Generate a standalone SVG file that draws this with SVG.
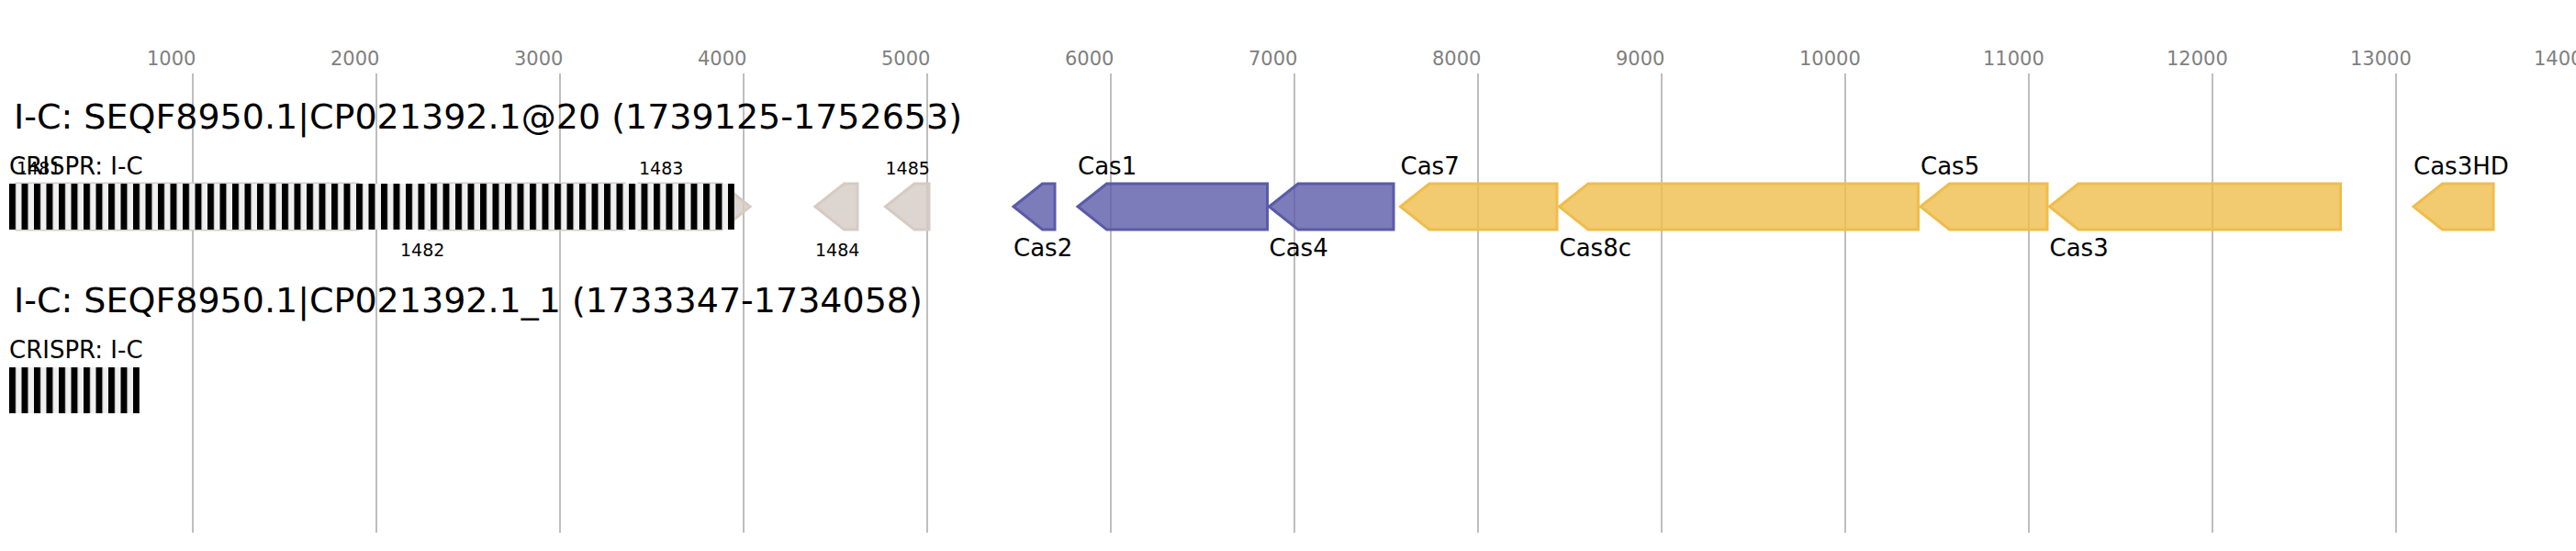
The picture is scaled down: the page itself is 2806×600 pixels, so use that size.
<svg xmlns="http://www.w3.org/2000/svg" width="2806" height="600" viewBox="0 0 2806 600">
<style>
text{font-family:"DejaVu Sans","Liberation Sans",sans-serif;fill:#000}
.ax{font-size:21px;fill:#808080}
.ttl{font-size:38px}
.lbl{font-size:26px}
.num{font-size:19px}
.grid{stroke:#bebebe;stroke-width:2}
.gene{stroke-width:3;fill-opacity:0.8;stroke-linejoin:miter}
.blue{fill:#5a5ba8;stroke:#5a5ba8}
.yel{fill:#efbd4b;stroke:#efbd4b}
.gry{fill:#d5cbc3;stroke:#d5cbc3}
</style>
<defs>
<pattern id="crispr" patternUnits="userSpaceOnUse" x="10" y="0" width="13.5" height="600">
<rect x="0" y="0" width="13.5" height="600" fill="#f0f0f0"/>
<rect x="0" y="0" width="7" height="600" fill="#000"/>
</pattern>
</defs>
<rect width="2806" height="600" fill="#fff"/>
<g id="axis">
<g class="grid">
<line x1="210" y1="80" x2="210" y2="580"/>
<line x1="410" y1="80" x2="410" y2="580"/>
<line x1="610" y1="80" x2="610" y2="580"/>
<line x1="810" y1="80" x2="810" y2="580"/>
<line x1="1010" y1="80" x2="1010" y2="580"/>
<line x1="1210" y1="80" x2="1210" y2="580"/>
<line x1="1410" y1="80" x2="1410" y2="580"/>
<line x1="1610" y1="80" x2="1610" y2="580"/>
<line x1="1810" y1="80" x2="1810" y2="580"/>
<line x1="2010" y1="80" x2="2010" y2="580"/>
<line x1="2210" y1="80" x2="2210" y2="580"/>
<line x1="2410" y1="80" x2="2410" y2="580"/>
<line x1="2610" y1="80" x2="2610" y2="580"/>
<line x1="2810" y1="80" x2="2810" y2="580"/>
</g>
<text class="ax" x="160" y="71">1000</text>
<text class="ax" x="360" y="71">2000</text>
<text class="ax" x="560" y="71">3000</text>
<text class="ax" x="760" y="71">4000</text>
<text class="ax" x="960" y="71">5000</text>
<text class="ax" x="1160" y="71">6000</text>
<text class="ax" x="1360" y="71">7000</text>
<text class="ax" x="1560" y="71">8000</text>
<text class="ax" x="1760" y="71">9000</text>
<text class="ax" x="1960" y="71">10000</text>
<text class="ax" x="2160" y="71">11000</text>
<text class="ax" x="2360" y="71">12000</text>
<text class="ax" x="2560" y="71">13000</text>
<text class="ax" x="2760" y="71">14000</text>
</g>
<g id="locus1">
<text class="ttl" x="15" y="140">I-C: SEQF8950.1|CP021392.1@20 (1739125-1752653)</text>
<g id="g1481"><polygon class="gene gry" points="18,200 390,200 421,225 390,250 18,250"/><text class="num" x="18" y="190">1481</text></g>
<g id="g1482"><polygon class="gene gry" points="436,225 467,200 680,200 680,250 467,250"/><text class="num" x="436" y="279">1482</text></g>
<g id="g1483"><polygon class="gene gry" points="696,200 786,200 817,225 786,250 696,250"/><text class="num" x="696" y="190">1483</text></g>
<g id="crispr1"><rect x="10" y="200" width="790" height="50" fill="url(#crispr)"/><text class="lbl" x="10" y="190">CRISPR: I-C</text></g>
<g id="g1484"><polygon class="gene gry" points="888,225 919.5,200 934,200 934,250 919.5,250"/><text class="num" x="888" y="279">1484</text></g>
<g id="g1485"><polygon class="gene gry" points="964.5,225 996,200 1012,200 1012,250 996,250"/><text class="num" x="964.5" y="190">1485</text></g>
<g id="cas2"><polygon class="gene blue" points="1104,225 1135.5,200 1149,200 1149,250 1135.5,250"/><text class="lbl" x="1104" y="279">Cas2</text></g>
<g id="cas1"><polygon class="gene blue" points="1174,225 1205.5,200 1380.5,200 1380.5,250 1205.5,250"/><text class="lbl" x="1174" y="190">Cas1</text></g>
<g id="cas4"><polygon class="gene blue" points="1382.5,225 1414,200 1518,200 1518,250 1414,250"/><text class="lbl" x="1382.5" y="279">Cas4</text></g>
<g id="cas7"><polygon class="gene yel" points="1525.5,225 1557,200 1696,200 1696,250 1557,250"/><text class="lbl" x="1525.5" y="190">Cas7</text></g>
<g id="cas8c"><polygon class="gene yel" points="1698.5,225 1730,200 2089.5,200 2089.5,250 1730,250"/><text class="lbl" x="1698.5" y="279">Cas8c</text></g>
<g id="cas5"><polygon class="gene yel" points="2092,225 2123.5,200 2230,200 2230,250 2123.5,250"/><text class="lbl" x="2092" y="190">Cas5</text></g>
<g id="cas3"><polygon class="gene yel" points="2232.5,225 2264,200 2549.5,200 2549.5,250 2264,250"/><text class="lbl" x="2232.5" y="279">Cas3</text></g>
<g id="cas3hd"><polygon class="gene yel" points="2629,225 2660.5,200 2716,200 2716,250 2660.5,250"/><text class="lbl" x="2629" y="190">Cas3HD</text></g>
</g>
<g id="locus2">
<text class="ttl" x="15" y="340">I-C: SEQF8950.1|CP021392.1_1 (1733347-1734058)</text>
<g id="crispr2"><rect x="10" y="400" width="142" height="50" fill="url(#crispr)"/><text class="lbl" x="10" y="390">CRISPR: I-C</text></g>
</g>
<g id="connectors"></g>
</svg>
